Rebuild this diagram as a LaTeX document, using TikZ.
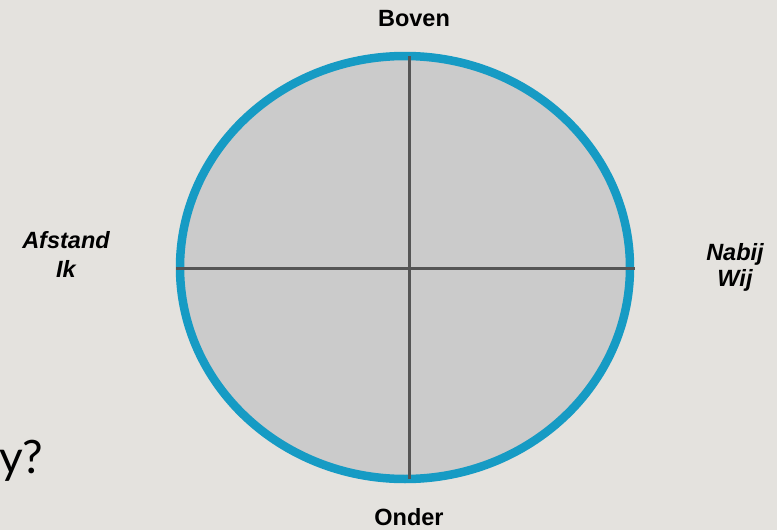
\documentclass[tikz,border=0pt]{standalone}
\usepackage{fontspec}
\setmainfont{Liberation Sans}
\newfontfamily\gillish{Lato}
\definecolor{bgc}{RGB}{228,226,222}
\definecolor{ringblue}{RGB}{22,155,196}
\definecolor{discfill}{RGB}{203,203,203}
\definecolor{axisgray}{RGB}{85,85,85}
\begin{document}
\begin{tikzpicture}[x=1pt,y=-1pt,
  lbl/.style={font=\fontsize{23.5}{28}\selectfont\bfseries, text=black, inner sep=0pt},
  ilbl/.style={font=\fontsize{23.5}{28}\selectfont\bfseries\itshape, text=black, inner sep=0pt, align=center}]
\useasboundingbox (0,0) rectangle (777,530);
\fill[bgc] (0,0) rectangle (777,530);
% disc and ring
\fill[discfill] (405,267.5) ellipse [x radius=225, y radius=211.5];
\draw[ringblue, line width=8.5pt] (405,267.5) ellipse [x radius=225, y radius=211.5];
% axes
\coordinate (hl) at (176,268);
\coordinate (hr) at (635,268);
\coordinate (vt) at (409,56);
\coordinate (vb) at (409,479);
\draw[axisgray, line width=3pt] (hl) -- (hr);
\draw[axisgray, line width=3pt] (vt) -- (vb);
% labels
\node[lbl, anchor=base] (boven) at (414,27) {Boven};
\node[lbl, anchor=base] (onder) at (409,525) {Onder};
\node[ilbl, anchor=base] (afstand) at (66,248.5) {Afstand};
\node[ilbl, anchor=base] (ik) at (66,277.5) {Ik};
\node[ilbl, anchor=base] (nabij) at (735,260.5) {Nabij};
\node[ilbl, anchor=base] (wij) at (735,286.5) {Wij};
\node[font=\gillish\fontsize{46}{50}\selectfont, anchor=base west, inner sep=0pt] (yq) at (-1,473) {y?};
\end{tikzpicture}
\end{document}
